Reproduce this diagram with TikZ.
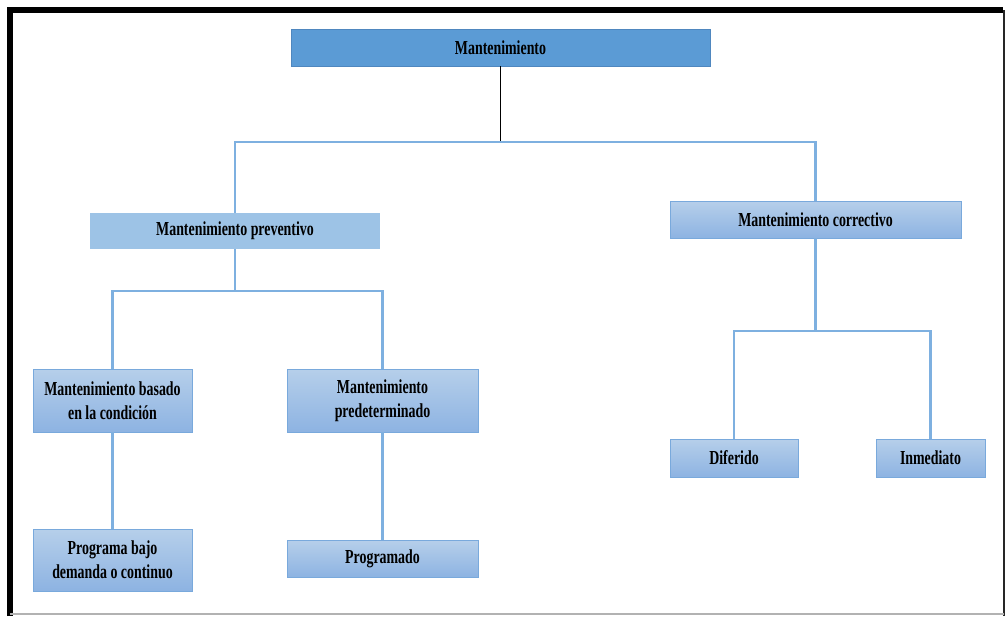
\documentclass[tikz,border=0pt]{standalone}
\usepackage{fontspec}
\setmainfont{Liberation Serif}[FakeStretch=0.70]
\usepackage{tikz}
\usetikzlibrary{calc}

\definecolor{topblue}{HTML}{5B9BD5}
\definecolor{topline}{HTML}{4F87BF}
\definecolor{flatblue}{HTML}{9DC3E6}
\definecolor{boxtop}{HTML}{B6CFEA}
\definecolor{boxbot}{HTML}{8DB3E2}
\definecolor{boxline}{HTML}{79A9DC}
\definecolor{linkblue}{HTML}{7EB0E0}

\begin{document}
\begin{tikzpicture}[x=0.02cm,y=-0.02cm,font=\fontsize{11.3}{13.6}\selectfont\bfseries]
\tikzstyle{root}=[draw=topline,fill=topblue,rectangle,inner sep=2pt]
\tikzstyle{flat}=[fill=flatblue,rectangle,inner sep=2pt]
\tikzstyle{leaf}=[draw=boxline,top color=boxtop,bottom color=boxbot,rectangle,inner sep=2pt,align=center]
\tikzstyle{link}=[linkblue,line width=1.2pt]
\useasboundingbox (0,0) rectangle (1006,616);
% frame
\draw[black,line width=3.2pt] (10,616) -- (10,10) -- (1003,10);
\draw[black!85,line width=1.2pt] (1004,10) -- (1004,616);
\draw[black!30,line width=1pt] (10,614) -- (1004,614);

\node [root,minimum width=8.38cm,minimum height=0.74cm] (mant) at (500.5,47.5) {Mantenimiento};
\node [flat,minimum width=5.8cm,minimum height=0.72cm] (prev) at (235,231) {Mantenimiento preventivo};
\node [leaf,minimum width=5.82cm,minimum height=0.74cm] (corr) at (815.5,219.5) {Mantenimiento correctivo};
\node [leaf,minimum width=3.18cm,minimum height=1.26cm] (basado) at (112.5,400.5) {Mantenimiento basado\\en la condición};
\node [leaf,minimum width=3.82cm,minimum height=1.26cm] (predet) at (382.5,400.5) {Mantenimiento\\predeterminado};
\node [leaf,minimum width=3.18cm,minimum height=1.24cm] (demanda) at (112.5,560) {Programa bajo\\demanda o continuo};
\node [leaf,minimum width=3.82cm,minimum height=0.74cm] (progr) at (382.5,558.5) {Programado};
\node [leaf,minimum width=2.56cm,minimum height=0.76cm] (dif) at (734,458) {Diferido};
\node [leaf,minimum width=2.18cm,minimum height=0.76cm] (inm) at (930.5,458) {Inmediato};

\coordinate (j1) at (500.5,142);
\coordinate (j2) at (235,291);
\coordinate (j3) at (815.5,331);

\draw[black,line width=0.8pt] (mant.south) -- (j1);
\draw[link] (prev.north) |- (j1) -| (corr.north);
\draw[link] (prev.south) -- (j2);
\draw[link] (basado.north) |- (j2) -| (predet.north);
\draw[link] (basado.south) -- (demanda.north);
\draw[link] (predet.south) -- (progr.north);
\draw[link] (corr.south) -- (j3);
\draw[link] (dif.north) |- (j3) -| (inm.north);
\end{tikzpicture}
\end{document}
